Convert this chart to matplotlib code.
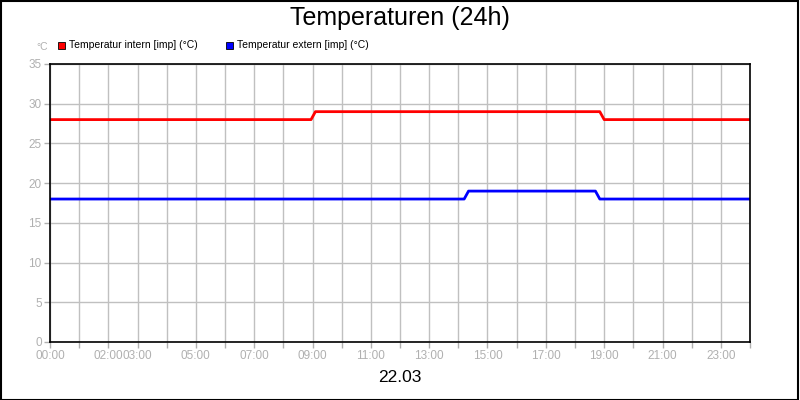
import matplotlib
matplotlib.use("Agg")
import matplotlib.pyplot as plt
plt.rcParams['font.family'] = ['Liberation Sans', 'DejaVu Sans']

title = "Temperaturen (24h)"
date_label = "22.03"
series_names = ["Temperatur intern [imp] (°C)", "Temperatur extern [imp] (°C)"]
colors = ["#ff0000", "#0000ff"]
t_intern = [0, 8.95, 9.1, 18.85, 19.0, 24]
v_intern = [28, 28, 29, 29, 28, 28]
t_extern = [0, 14.2, 14.35, 18.7, 18.85, 24]
v_extern = [18, 18, 19, 19, 18, 18]
tick_hours = [0, 2, 3, 5, 7, 9, 11, 13, 15, 17, 19, 21, 23]
yticks = [0, 5, 10, 15, 20, 25, 30, 35]

fig = plt.figure(figsize=(8, 4), dpi=100)
fig.patch.set_facecolor("white")
fig.patches.append(plt.Rectangle((0.001, 0.001), 0.997, 0.997, transform=fig.transFigure,
                                 fill=False, edgecolor="black", linewidth=1.5))
ax = fig.add_axes([50/800, 1-342/400, 700/800, 278/400])
ax.plot(t_intern, v_intern, color=colors[0], lw=2)
ax.plot(t_extern, v_extern, color=colors[1], lw=2)
ax.set_xlim(0, 24)
ax.set_ylim(0, 35)
ax.set_xticks(range(25))
ax.set_xticklabels([f"{h:02d}:00" if h in tick_hours else "" for h in range(25)])
ax.set_yticks(yticks)
ax.grid(True, color="#c0c0c0", lw=1)
ax.set_axisbelow(True)
ax.tick_params(colors="#b0b0b0", labelsize=8.5, length=4, width=1, pad=2)
for s in ax.spines.values():
    s.set_color("black"); s.set_linewidth(1.2)
fig.text(0.5, 1-18/400, title, ha="center", va="center", fontsize=18)
fig.text(0.5, 1-378/400, date_label, ha="center", va="center", fontsize=12.5)
fig.text(42/800, 1-47/400, "°C", ha="center", va="center", fontsize=7.5, color="#b0b0b0")
for name, c, x in zip(series_names, colors, [58, 226]):
    fig.patches.append(plt.Rectangle((x/800, 1-49/400), 7/800, 7/400, transform=fig.transFigure,
                                     facecolor=c, edgecolor="black", lw=0.6))
    fig.text((x+11)/800, 1-45.5/400, name, ha="left", va="center", fontsize=7.5)
fig.savefig("out.png", dpi=100)
